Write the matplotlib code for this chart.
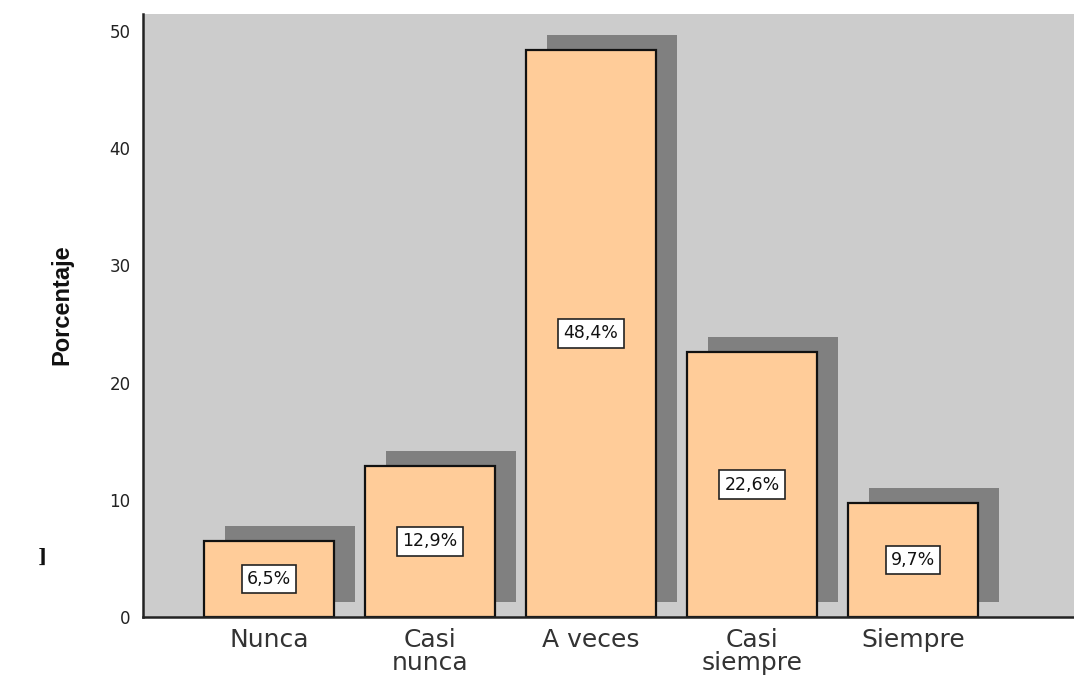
import matplotlib
matplotlib.use("Agg")
import matplotlib.pyplot as plt

categories = ["Nunca", "Casi\nnunca", "A veces", "Casi\nsiempre", "Siempre"]
percentages = [6.5, 12.9, 48.4, 22.6, 9.7]
value_labels = ["6,5%", "12,9%", "48,4%", "22,6%", "9,7%"]
yticks = [0, 10, 20, 30, 40, 50]

bar_color = "#FFCC99"
shadow_color = "#808080"
panel_color = "#CCCCCC"

fig = plt.figure(figsize=(10.74, 6.8), dpi=100)
ax = fig.add_axes([143 / 1074, 63 / 680, 1 - 143 / 1074, 603 / 680])
ax.set_facecolor(panel_color)

x = list(range(len(categories)))
width = 0.81
dx, dy = 0.13, 1.3

# drop shadows behind the bars
ax.bar([xi + dx for xi in x], percentages, width=width, bottom=dy,
       color=shadow_color, edgecolor="none", zorder=1)
# main bars
ax.bar(x, percentages, width=width, color=bar_color,
       edgecolor="#111111", linewidth=1.6, zorder=2)

for xi, v, lab in zip(x, percentages, value_labels):
    ax.text(xi, v / 2, lab, ha="center", va="center", fontsize=12.5, color="#111111",
            zorder=3,
            bbox=dict(boxstyle="square,pad=0.3", facecolor="white",
                      edgecolor="#222222", linewidth=1.2))

ax.set_xlim(-0.783, 5.0)
ax.set_ylim(0, 51.45)
ax.set_yticks(yticks)
ax.set_yticklabels([str(t) for t in yticks], fontsize=12, color="#222222")
ax.set_xticks(x)
ax.set_xticklabels(categories, fontsize=18, color="#333333", linespacing=0.95)
ax.tick_params(axis="both", length=0)
ax.tick_params(axis="y", pad=9)
ax.tick_params(axis="x", pad=8)

for side in ["top", "right"]:
    ax.spines[side].set_visible(False)
ax.spines["left"].set_color("#222222")
ax.spines["left"].set_linewidth(1.8)
ax.spines["bottom"].set_color("#222222")
ax.spines["bottom"].set_linewidth(1.8)

fig.text(62 / 1074, 1 - 305 / 680, "Porcentaje", rotation=90, ha="center", va="center",
         fontsize=17, fontweight="bold", family="Liberation Sans", color="#111111")
fig.text(42 / 1074, 1 - 557 / 680, "]", ha="center", va="center",
         fontsize=14, fontweight="bold", family="DejaVu Serif", color="#111111")

fig.savefig("out.png", dpi=100)
